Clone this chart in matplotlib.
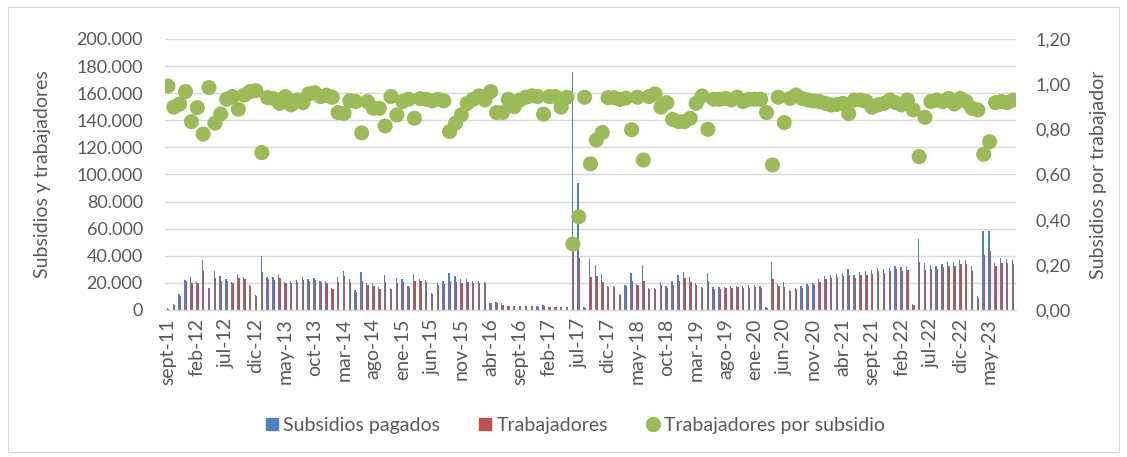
import numpy as np
import matplotlib
matplotlib.use("Agg")
import matplotlib.pyplot as plt
from matplotlib.lines import Line2D
from matplotlib.patches import Rectangle
from matplotlib.ticker import FuncFormatter

plt.rcParams['font.family'] = ['Lato', 'DejaVu Sans']

# month names (Spanish) and first month of the series: sept-2011
nombres_mes = ['ene', 'feb', 'mar', 'abr', 'may', 'jun', 'jul', 'ago', 'sept', 'oct', 'nov', 'dic']
mes_inicio, anio_inicio = 8, 2011

subsidios = [
    1500, 4500, 11750, 22000, 24000, 21750, 36750, 16250, 28750, 25250, 23000, 21000,
    26250, 24000, 18750, 11000, 40000, 24000, 24000, 26000, 21000, 21750, 22250, 24000,
    22500, 23250, 21750, 21500, 16500, 24000, 28500, 22500, 15000, 28250, 20250, 20000,
    17250, 25500, 16500, 23250, 23000, 18000, 26250, 22750, 22250, 12250, 19750, 21250,
    27500, 24750, 22500, 22500, 21750, 21250, 21000, 5250, 6250, 5000, 3000, 3000,
    3000, 3000, 3000, 2750, 3750, 2500, 2500, 2500, 2500, 176000, 93750, 2000,
    37500, 33000, 26250, 18000, 18000, 12000, 18750, 27500, 19500, 33000, 16250, 16500,
    20500, 18000, 21750, 25500, 28000, 24250, 20250, 17250, 27000, 17250, 16750, 17250,
    17750, 18000, 18000, 18250, 18500, 17750, 2250, 35250, 19000, 21000, 14750, 16500,
    17500, 19500, 20250, 22500, 24750, 25500, 26250, 27000, 30000, 25500, 27750, 28500,
    29250, 31000, 30000, 30750, 32750, 31500, 31500, 4250, 52500, 34750, 33250, 32750,
    34000, 35500, 35250, 36750, 36750, 32500, 10250, 58500, 58500, 35000, 38000, 37500,
    36750,
]

trabajadores = [
    1000, 3750, 10500, 21250, 20000, 19750, 28500, 16250, 23750, 21750, 21250, 20250,
    23250, 22500, 18000, 10500, 28000, 22500, 22000, 23500, 19750, 20000, 20750, 22000,
    21500, 22250, 20500, 20250, 15500, 20750, 24750, 20750, 13500, 21750, 18500, 17750,
    15500, 21000, 15750, 19750, 21000, 17250, 21750, 21250, 20750, 11500, 18250, 19500,
    21750, 20750, 20000, 21000, 20250, 20000, 19750, 5000, 5500, 4000, 2750, 2750,
    2750, 2750, 2750, 2500, 3000, 2250, 2250, 2250, 2250, 51500, 38250, 1500,
    24000, 24750, 20750, 17250, 17250, 11250, 17750, 21750, 18500, 21750, 15250, 15250,
    18250, 16500, 18250, 21250, 23250, 20500, 18500, 16000, 21250, 15750, 15750, 16250,
    16500, 16750, 16500, 16500, 16750, 16500, 1500, 22500, 17750, 17000, 13750, 15250,
    16500, 18000, 18500, 21000, 22500, 23250, 24000, 24750, 26000, 23500, 25500, 26000,
    26250, 28500, 27250, 28500, 30000, 28500, 29250, 3500, 35500, 29250, 30250, 30250,
    31500, 32250, 32250, 34000, 33750, 28750, 8750, 40250, 43500, 32250, 35000, 34500,
    34000,
]

trab_por_subsidio = [
    0.992, 0.898, 0.912, 0.967, 0.834, 0.896, 0.779, 0.985, 0.827, 0.868, 0.933, 0.945,
    0.889, 0.952, 0.967, 0.971, 0.697, 0.940, 0.936, 0.915, 0.945, 0.908, 0.930, 0.918,
    0.957, 0.962, 0.945, 0.951, 0.942, 0.874, 0.871, 0.927, 0.923, 0.784, 0.923, 0.893,
    0.893, 0.815, 0.945, 0.864, 0.923, 0.933, 0.849, 0.936, 0.933, 0.926, 0.933, 0.926,
    0.790, 0.827, 0.864, 0.915, 0.933, 0.948, 0.930, 0.967, 0.874, 0.874, 0.933, 0.900,
    0.930, 0.942, 0.948, 0.945, 0.867, 0.945, 0.945, 0.898, 0.942, 0.292, 0.413, 0.942,
    0.647, 0.753, 0.786, 0.940, 0.940, 0.932, 0.938, 0.798, 0.942, 0.664, 0.945, 0.957,
    0.898, 0.918, 0.844, 0.834, 0.834, 0.849, 0.915, 0.948, 0.800, 0.933, 0.933, 0.937,
    0.930, 0.942, 0.923, 0.933, 0.933, 0.933, 0.874, 0.642, 0.942, 0.830, 0.937, 0.952,
    0.937, 0.930, 0.926, 0.923, 0.915, 0.908, 0.910, 0.915, 0.870, 0.930, 0.930, 0.923,
    0.898, 0.908, 0.915, 0.930, 0.918, 0.908, 0.930, 0.886, 0.679, 0.853, 0.923, 0.930,
    0.923, 0.937, 0.912, 0.937, 0.923, 0.893, 0.886, 0.689, 0.745, 0.918, 0.923, 0.918,
    0.930,
]

n = len(subsidios)
meses = []
for k in range(n):
    m = (mes_inicio + k) % 12
    a = anio_inicio + (mes_inicio + k) // 12
    meses.append(f"{nombres_mes[m]}-{a % 100:02d}")

azul, rojo, verde = '#4F81BD', '#C0504D', '#9BBB59'
gris_txt, gris_linea = '#595959', '#D9D9D9'

fig = plt.figure(figsize=(11.27, 4.57), dpi=100)
fig.patches.append(Rectangle((0.007, 0.012), 0.986, 0.972, transform=fig.transFigure,
                             fill=False, edgecolor='#D9D9D9', linewidth=0.8))
ax = fig.add_axes([0.1464, 0.3217, 0.7551, 0.593])

x = np.arange(n)
w = 0.22
ax.bar(x - w / 2, subsidios, width=w, color=azul, zorder=2)
ax.bar(x + w / 2, trabajadores, width=w, color=rojo, zorder=2)

ax.set_xlim(-0.5, n - 0.5)
ax.set_ylim(0, 200000)
ax.set_yticks(np.arange(0, 200001, 20000))
ax.yaxis.set_major_formatter(FuncFormatter(lambda v, p: f"{int(v):,}".replace(',', '.')))
ax.grid(axis='y', color=gris_linea, linewidth=1.0, zorder=0)
ax.set_axisbelow(True)
for s in ['top', 'right', 'left']:
    ax.spines[s].set_visible(False)
ax.spines['bottom'].set_color(gris_linea)
ax.spines['bottom'].set_linewidth(1.0)
ax.set_xticks(x[::5])
ax.set_xticklabels(meses[::5], rotation=90)
ax.tick_params(axis='x', length=0, labelsize=14, colors=gris_txt, pad=6)
ax.tick_params(axis='y', length=0, labelsize=13, colors=gris_txt, pad=16)
ax.set_ylabel('Subsidios y trabajadores', fontsize=14, color=gris_txt, labelpad=18)

ax2 = ax.twinx()
ax2.scatter(x, trab_por_subsidio, s=118, color=verde, edgecolors='none', zorder=3)
ax2.set_ylim(0, 1.2)
ax2.set_yticks(np.arange(0, 1.21, 0.2))
ax2.yaxis.set_major_formatter(FuncFormatter(lambda v, p: f"{v:.2f}".replace('.', ',')))
ax2.tick_params(axis='y', length=0, labelsize=13, colors=gris_txt, pad=14)
for s in ax2.spines.values():
    s.set_visible(False)
ax2.set_ylabel('Subsidios por trabajador', fontsize=14, color=gris_txt, labelpad=14)

handles = [
    Line2D([], [], marker='s', linestyle='none', color=azul, markersize=9),
    Line2D([], [], marker='s', linestyle='none', color=rojo, markersize=9),
    Line2D([], [], marker='o', linestyle='none', color=verde, markersize=10),
]
fig.legend(handles, ['Subsidios pagados', 'Trabajadores', 'Trabajadores por subsidio'],
           loc='center', bbox_to_anchor=(0.509, 0.07), ncol=3, frameon=False,
           fontsize=14, labelcolor=gris_txt, handletextpad=0.1, columnspacing=1.8,
           handlelength=1.0)

fig.savefig('out.png', dpi=100)
